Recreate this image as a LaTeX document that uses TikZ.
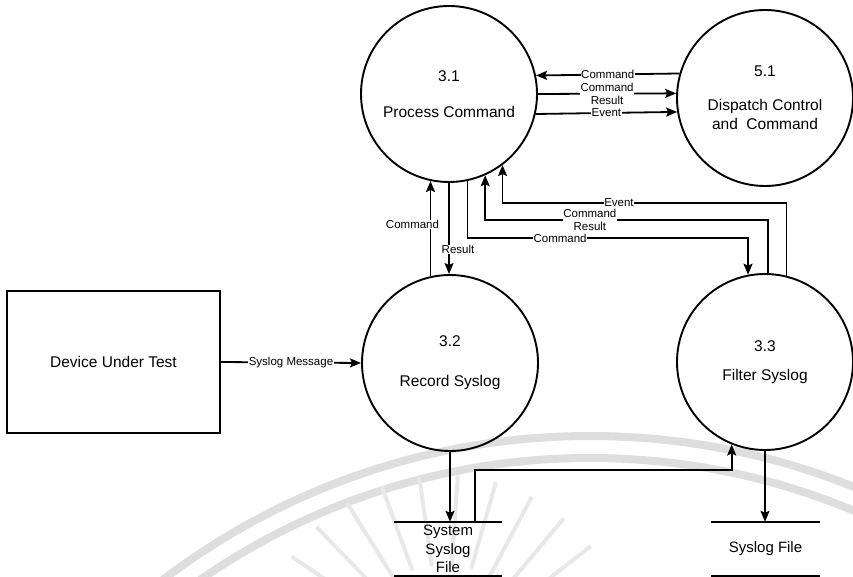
\documentclass[tikz,border=0pt]{standalone}
\usepackage{fontspec}
\setmainfont{Liberation Sans}
\usetikzlibrary{arrows.meta,calc}
\begin{document}
\begin{tikzpicture}[x=1pt,y=-1pt,
  proc/.style={circle,draw,line width=1.9pt,minimum size=176pt,inner sep=0pt,
    align=center,font=\fontsize{15.5}{19}\selectfont},
  ext/.style={rectangle,draw,line width=1.9pt,minimum width=213pt,
    minimum height=142pt,font=\fontsize{15.5}{19}\selectfont},
  store/.style={rectangle,minimum width=108pt,minimum height=54pt,inner sep=0pt,
    align=center,font=\fontsize{15}{18.5}\selectfont},
  wire/.style={line width=1.8pt},
  flow/.style={wire,-{Stealth[length=11pt,width=9pt,inset=2pt]}},
  lbl/.style={fill=white,inner sep=0.6pt,align=center,
    font=\fontsize{11.5}{12.5}\selectfont},
  wmark/.style={line width=8pt,black!13},
  wray/.style={line width=4pt,black!9}]

\useasboundingbox (0,0) rectangle (853,577);

% faint background emblem
\begin{scope}
  \clip (0,0) rectangle (853,577);
  \draw[wmark] (590,1142) circle[radius=706];
  \draw[wmark] (590,1142) circle[radius=684];
  \coordinate (wc) at (445,660);
  \foreach \a in {38,50,...,146}
    \draw[wray] ($(wc)+(-\a:95)$) -- ($(wc)+(-\a:185)$);
\end{scope}

% processes, external entity and stores
\node[proc] (p31) at (449,94) {3.1\\[17pt]Process Command};
\node[proc] (p51) at (765,98) {5.1\\[15pt]Dispatch Control\\and~ Command};
\node[proc] (p32) at (450,363) {3.2\\[21pt]Record Syslog};
\node[proc] (p33) at (765,362) {3.3\\[10pt]Filter Syslog};
\node[ext] (dut) at (113.5,362) {Device Under Test};
\node[store] (sys) at (448,549) {System\\Syslog\\File};
\node[store] (slf) at (765.5,549) {Syslog File};
\foreach \s in {sys,slf} {
  \draw[line width=1.9pt] (\s.north west) -- (\s.north east);
  \draw[line width=1.9pt] (\s.south west) -- (\s.south east);
}

% bus levels of the routed flows
\coordinate (busE) at (0,203);
\coordinate (busR) at (0,220);
\coordinate (busC) at (0,238);
\coordinate (busS) at (0,470);

% device to recorder
\draw[flow] (dut.east) -- node[lbl]{Syslog Message} (p32.west);

% process command <-> dispatch control
\draw[flow] (p51.164.7) -- node[lbl]{Command} (p31.12.5);
\draw[flow] (p31.0) -- node[lbl]{Command\\Result} (p51.177.4);
\draw[flow] (p31.347.5) -- node[lbl]{Event} (p51.189.9);

% process command <-> record syslog
\draw[flow] (p31.258.2 |- p32.102.3) -- node[lbl,xshift=-18pt,yshift=4pt]{Command} (p31.258.2);
\draw[flow] (p31.south) -- node[lbl,xshift=9pt,yshift=-21pt]{Result} (p31.south |- p32.north);

% process command <-> filter syslog
\draw[flow] (p31.282.5) -- (p31.282.5 |- busC) -- node[lbl,pos=0.33]{Command} (p33.101.1 |- busC) -- (p33.101.1);
\draw[flow] (p33.88.7) -- (p33.88.7 |- busR) -- node[lbl,pos=0.63]{Command\\Result} (p31.294.1 |- busR) -- (p31.294.1);
\draw[flow] (p33.76.9) -- (p33.76.9 |- busE) -- node[lbl,pos=0.59]{Event} (p31.307 |- busE) -- (p31.307);

% syslog files
\draw[flow] (p32.south) -- (p32.south |- sys.north);
\draw[flow] ([xshift=27pt]sys.north) -- ([xshift=27pt]sys.north |- busS) -- (p33.248.7 |- busS) -- (p33.248.7);
\draw[flow] (p33.south) -- (p33.south |- slf.north);
\end{tikzpicture}
\end{document}
